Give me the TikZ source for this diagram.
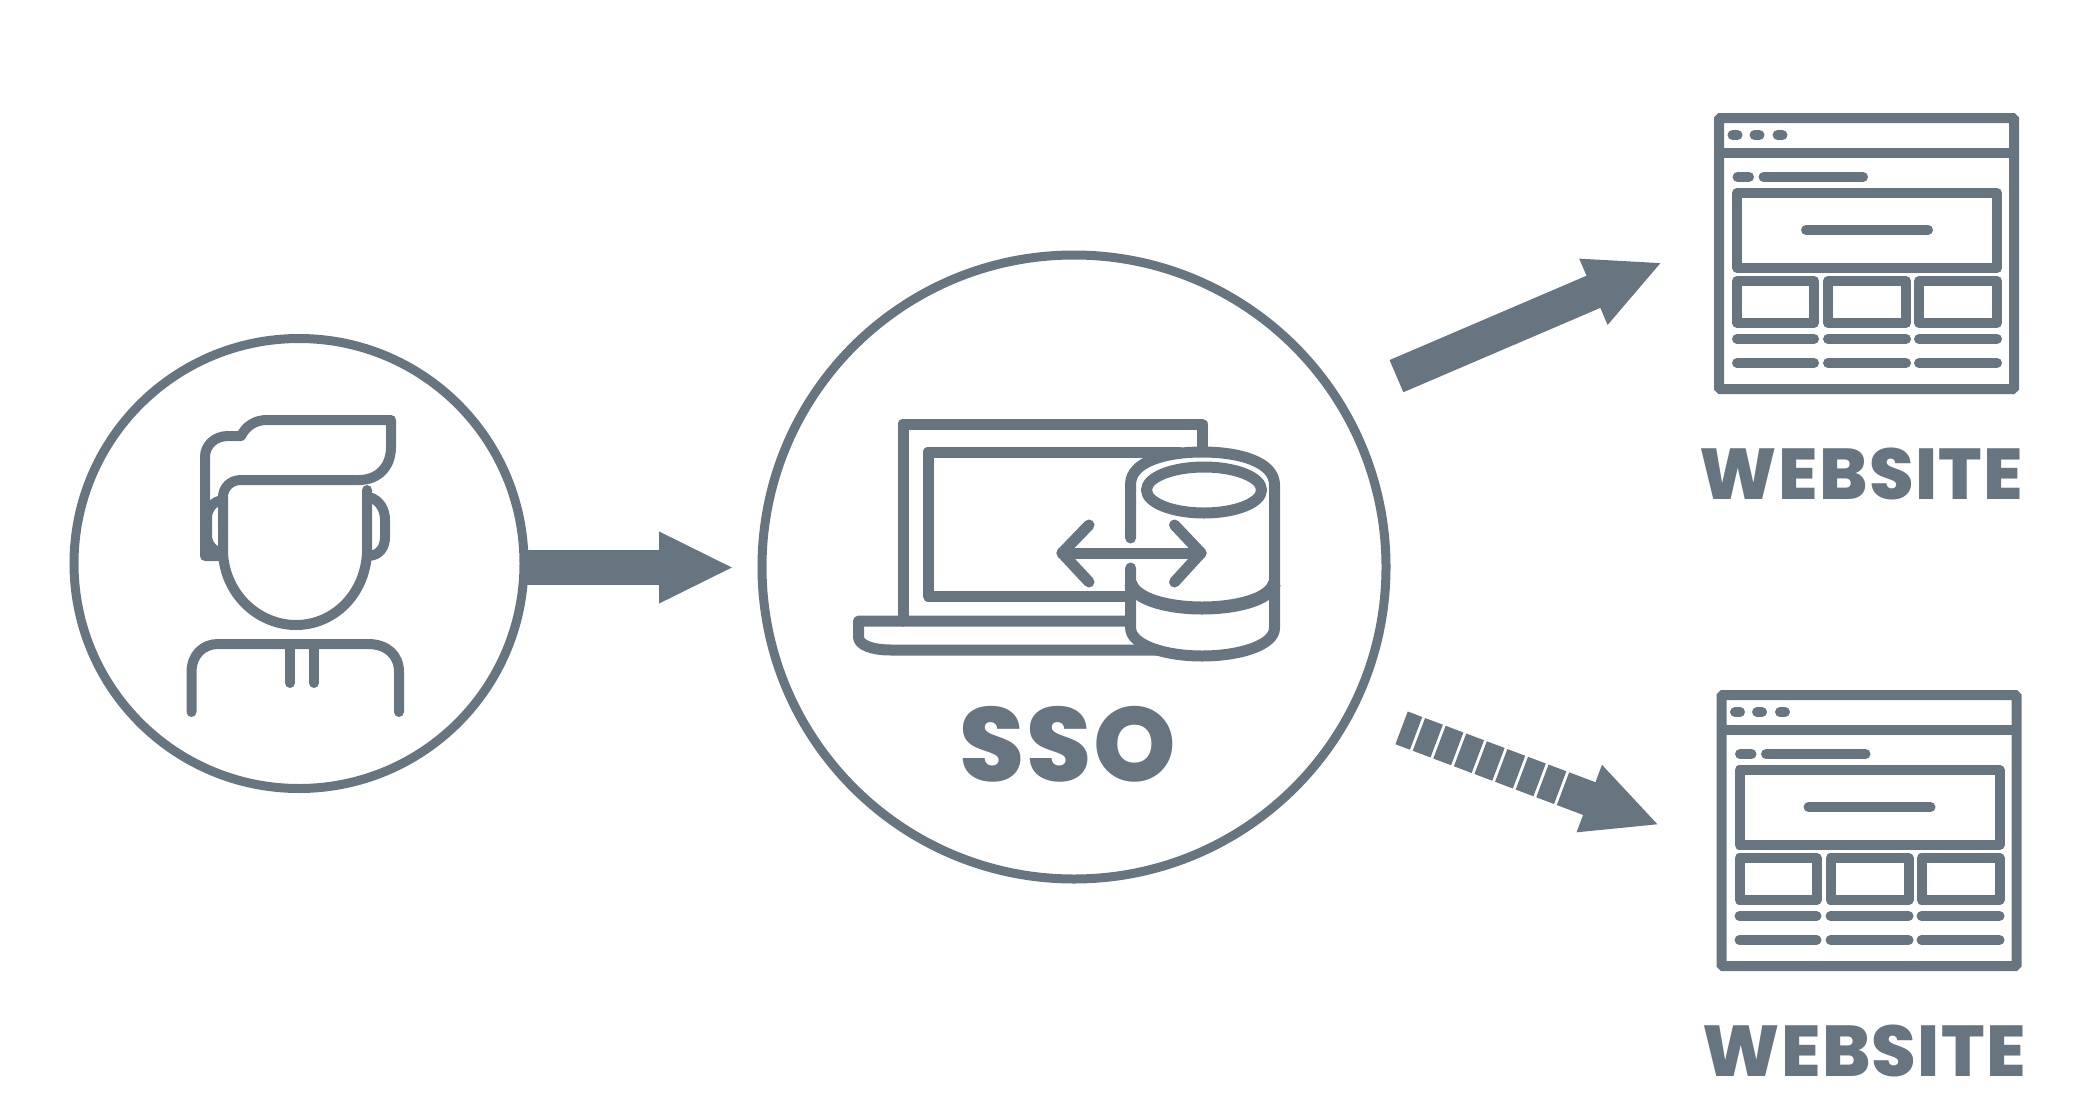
\documentclass[tikz,border=0pt]{standalone}
\usepackage{fontspec}
\setmainfont[LetterSpace=2]{Poppins ExtraBold}
\usetikzlibrary{positioning,arrows.meta}
\definecolor{slate}{HTML}{66757F}

\begin{document}
\begin{tikzpicture}[x=1pt, y=-1pt,
        ringnode/.style={circle, draw=slate, line width=9pt, inner sep=0pt},
        sitenode/.style={rectangle, draw=slate, line width=10pt, rounded corners=1.5pt, inner sep=0pt, minimum width=295pt, minimum height=271pt},
        labelnode/.style={text=slate, font=\fontsize{72}{72}\selectfont, inner sep=0pt},
        iconline/.style={draw=slate, line width=10pt, line cap=round, line join=round},
        barline/.style={draw=slate, line width=10pt, line cap=round},
        boxline/.style={draw=slate, line width=10pt, line join=round},
        fatarrow/.style={draw=slate, line width=35pt, -{Triangle[length=75pt, width=66pt]}},
        ]
        \useasboundingbox (0,0) rectangle (2076,1116);

        %Nodes
        \node[ringnode] (user) at (299,563.5) [minimum size=450pt] {};
        \node[ringnode] (sso) at (1074,567) [minimum size=624pt] {};
        \node[sitenode] (site1) at (1866.5,253.5) {};
        \node[sitenode] (site2) at (1869,830.5) {};
        \node[labelnode] (sso label) at (1068,744) [font=\fontsize{105}{105}\selectfont] {SSO};
        \node[labelnode] (site1 label) [below=54pt of site1, xshift=-5pt] {WEBSITE};
        \node[labelnode] (site2 label) [below=54pt of site2, xshift=-5pt] {WEBSITE};

        %Arrows
        \draw[fatarrow, shorten <=-5pt, shorten >=23.5pt] (user.-1) -- (user.-1 -| sso.west);
        \draw[fatarrow, shorten <=58.8pt, shorten >=56.2pt] (sso.32.2) -- (site1.175.37);
        \draw[fatarrow, dash pattern=on 15.5pt off 3pt on 19pt off 3pt on 19pt off 3pt on 19pt off 3pt on 19pt off 3pt on 19pt off 3pt on 19pt off 3pt on 19pt off 3pt on 120pt off 1pt, shorten <=48.7pt, shorten >=61pt] (sso.-27.2) -- (site2.186.95);

        %User
        \draw[iconline] (223,556) -- (205,556) -- (205,457) .. controls (205,445) and (215,436) .. (228,436) -- (241,436) .. controls (246,426) and (255,420) .. (267,420) -- (391,420) -- (391,447) .. controls (391,467) and (378,480) .. (359,480) -- (241,480) .. controls (230,480) and (223,488) .. (223,497);
        \draw[iconline] (223,497) -- (223,553) .. controls (225,594) and (258,625) .. (296,625) .. controls (334,625) and (365,594) .. (367,553) -- (367,490);
        \draw[iconline] (223,500) .. controls (214,501) and (207,508) .. (207,518) -- (207,535) .. controls (207,545) and (214,552) .. (223,553);
        \draw[iconline] (369,497) .. controls (380,500) and (385,510) .. (385,520) -- (385,537) .. controls (385,547) and (380,555) .. (369,556);
        \draw[iconline] (191.5,712) -- (191.5,672) .. controls (191.5,655) and (203,644) .. (218,644) -- (368,644) .. controls (387,644) and (399,655) .. (399,672) -- (399,712);
        \draw[iconline] (290,644) -- (290,683);
        \draw[iconline] (314,644) -- (314,683);

        %Laptop
        \draw[iconline, line width=11pt] (903,621) -- (903,424) -- (1202,424) -- (1202,447);
        \draw[iconline, line width=11pt] (1180,452) -- (928,452) -- (928,596) -- (1128,596);
        \draw[iconline, line width=11pt] (1128,621) -- (858.5,621) -- (858.5,637) .. controls (858.5,645) and (872,650) .. (891,650) -- (1158,650);

        %Database
        \draw[iconline, line width=11pt] (1130.6,538) -- (1130.6,484) .. controls (1130.6,462) and (1165,452) .. (1202,452) .. controls (1240,452) and (1274.5,462) .. (1274.5,485) -- (1274.5,628) .. controls (1274.5,645) and (1240,656) .. (1202,656) .. controls (1165,656) and (1130.6,645) .. (1130.6,628) -- (1130.6,568);
        \draw[iconline, line width=13pt, line cap=butt] (1130.6,583) .. controls (1135,600) and (1170,608) .. (1202,608) .. controls (1235,608) and (1270,600) .. (1274.5,583);
        \draw[iconline, line width=11pt] (1204,490) ellipse (57.5pt and 23pt);
        \draw[iconline, line width=11pt] (1089,525) -- (1062,553) -- (1089,582);
        \draw[iconline, line width=11pt] (1174.5,525) -- (1201,553) -- (1174.5,582);
        \draw[iconline, line width=11pt] (1062,553) -- (1201,553);

        %Websites
        \foreach \dx/\dy in {0/0, 2.5/577} {
            \begin{scope}[shift={(\dx,\dy)}]
                \draw[boxline] (1719,153) -- (2014,153);
                \foreach \xa in {1735,1757,1780}
                    \draw[barline] (\xa-2.5,135) -- (\xa+2.5,135);
                \draw[barline] (1737.5,177) -- (1749,177);
                \draw[barline] (1763.5,177) -- (1863,177);
                \draw[boxline] (1737,193) rectangle (1997,268);
                \draw[barline] (1806,230) -- (1928,230);
                \foreach \xa/\xb in {1737/1814, 1828/1906, 1919/1997} {
                    \draw[boxline] (\xa,281) rectangle (\xb,323);
                }
                \foreach \xa/\xb in {1737/1814, 1828/1906, 1919/1997} {
                    \draw[barline] (\xa,339) -- (\xb,339);
                    \draw[barline] (\xa,363) -- (\xb,363);
                }
            \end{scope}
        }
    \end{tikzpicture}
\end{document}
